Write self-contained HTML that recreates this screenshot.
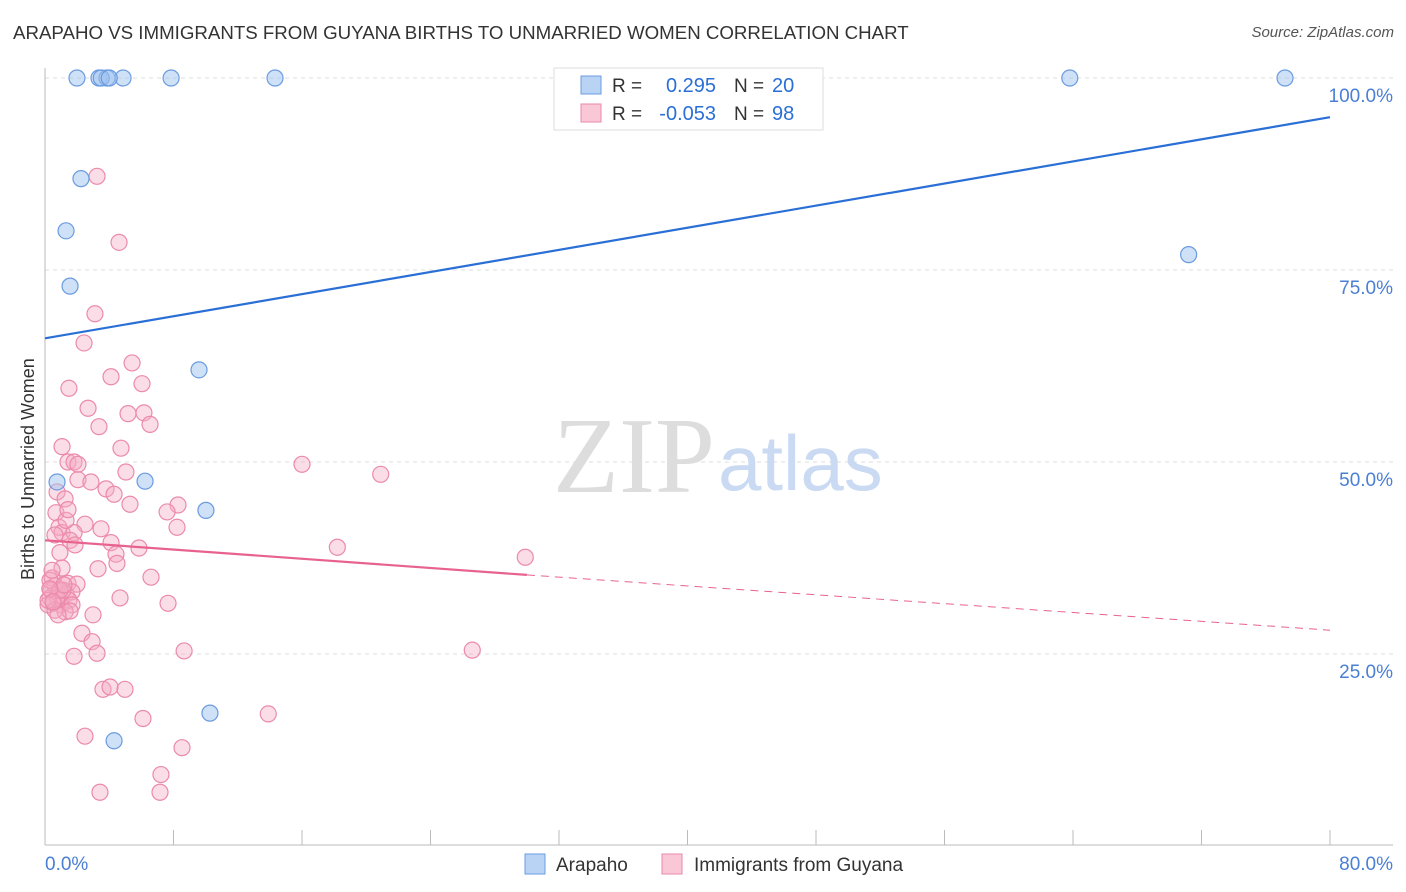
<!DOCTYPE html>
<html><head><meta charset="utf-8">
<style>
body{margin:0;background:#fff;font-family:"Liberation Sans",sans-serif;}
#wrap{position:relative;width:1406px;height:892px;overflow:hidden;}
.t{position:absolute;white-space:nowrap;}
</style></head>
<body>
<div id="wrap">
<div class="t" style="left:13px;top:22px;font-size:18.7px;color:#333;">ARAPAHO VS IMMIGRANTS FROM GUYANA BIRTHS TO UNMARRIED WOMEN CORRELATION CHART</div>
<div class="t" style="right:12px;top:24px;font-size:15px;font-style:italic;color:#555;">Source: ZipAtlas.com</div>
<div class="t" style="left:18px;top:580px;font-size:18px;color:#333;transform:rotate(-90deg);transform-origin:left top;">Births to Unmarried Women</div>
<svg id="svg" width="1406" height="892" style="position:absolute;left:0;top:0"></svg>
</div>
<script>
const blueX=[1.99,3.36,3.86,4.86,7.85,14.32,63.8,77.2,2.24,1.31,1.56,9.59,0.75,6.23,10.02,10.27,4.30,71.2,3.5,4.0];
const blueY=[100,100,100,100,100,100,100,100,86.9,80.1,72.9,62.0,47.4,47.5,43.7,17.3,13.7,77.0,100,100];
const pinkX=[3.24,4.61,3.11,2.43,5.42,4.11,6.04,1.49,2.68,5.17,6.16,6.54,3.36,1.06,4.73,1.43,1.81,2.05,5.04,16.0,20.9,2.05,2.86,3.80,4.30,0.75,1.25,5.29,8.28,7.60,0.68,8.22,0.87,2.49,3.49,1.06,1.81,0.62,1.56,4.11,5.85,4.42,0.93,18.2,29.9,4.48,1.06,3.30,0.44,6.60,1.43,0.62,1.99,0.37,1.31,1.68,0.31,0.81,1.49,4.67,7.66,1.00,1.68,1.25,2.99,1.56,2.30,2.93,3.24,1.81,8.66,26.6,3.61,4.05,4.98,6.10,13.9,2.49,8.53,7.22,3.42,7.16,0.5,0.75,0.19,0.62,1.12,0.31,0.93,0.44,1.18,0.19,0.81,1.87,1.31,1.43,0.3,0.5];
const pinkY=[87.2,78.6,69.3,65.5,62.9,61.1,60.2,59.6,57.0,56.3,56.4,54.9,54.6,52.0,51.8,50.0,50.0,49.7,48.7,49.7,48.4,47.7,47.4,46.5,45.8,46.1,45.2,44.5,44.4,43.5,43.4,41.5,41.5,41.9,41.3,40.8,40.8,40.5,39.8,39.5,38.8,38.0,38.2,38.9,37.6,36.8,36.2,36.1,34.9,35.0,34.2,33.9,34.1,33.3,32.8,33.1,32.3,32.0,32.0,32.3,31.6,31.4,31.4,30.5,30.1,30.6,27.7,26.6,25.1,24.7,25.4,25.5,20.4,20.7,20.4,16.6,17.2,14.3,12.8,9.3,7.0,7.0,31.6,32.4,31.4,30.7,33.3,34.6,33.3,35.9,34.0,32.0,30.1,39.2,42.4,43.8,33.5,31.8];
const blueLine=[66.1,94.9];
const pinkLine=[39.8,35.3,28.1];
const pinkSolidEnd=30;
const yTicks=[25,50,75,100];
const yTickLabels=["25.0%","50.0%","75.0%","100.0%"];
const xTicks=[0,8,16,24,32,40,48,56,64,72,80];

const NS="http://www.w3.org/2000/svg";
const svg=document.getElementById('svg');
const X=v=>45+v/80*1285;
const Y=v=>846-v*7.68;
function mk(tag,a,parent){const e=document.createElementNS(NS,tag);for(const k in a)e.setAttribute(k,a[k]);(parent||svg).appendChild(e);return e;}

yTicks.forEach((t,i)=>{
  const g=mk('line',{x1:45,x2:1393,y1:Y(t),y2:Y(t),stroke:'#ddd','stroke-dasharray':'4,4'});
  
  
  const tx=mk('text',{x:1393,y:Y(t)+24,'text-anchor':'end','font-size':19,fill:'#4a7fd4','font-family':'Liberation Sans, sans-serif'});
  tx.textContent=yTickLabels[i];
  
  
});
const ax=mk('line',{x1:45,x2:1393,y1:845,y2:845,stroke:'#bbb'});


const ay=mk('line',{x1:45,x2:45,y1:68,y2:845,stroke:'#bbb'});


xTicks.forEach(t=>{
  const l=mk('line',{x1:X(t),x2:X(t),y1:830,y2:845,stroke:'#bbb'});
  
  
});
[[0,'0.0%','start',45],[80,'80.0%','end',1393]].forEach(d=>{
  const tx=mk('text',{x:d[3],y:870,'text-anchor':d[2],'font-size':19,fill:'#4a7fd4','font-family':'Liberation Sans, sans-serif'});
  tx.textContent=d[1];
  
  
});
const w1=mk('text',{x:553,y:492,'font-size':108,fill:'#ddd','font-family':'Liberation Serif, serif'});
w1.textContent='ZIP';


const w2=mk('text',{x:718,y:490,'font-size':78,fill:'#c9daf2','font-family':'Liberation Sans, sans-serif'});
w2.textContent='atlas';



pinkX.forEach((x,i)=>{
  const c=mk('circle',{cx:X(x),cy:Y(pinkY[i]),r:8,fill:'rgba(245,170,195,0.4)',stroke:'#eb8aaa','stroke-width':1.2});
  
  
});
blueX.forEach((x,i)=>{
  const c=mk('circle',{cx:X(x),cy:Y(blueY[i]),r:8,fill:'rgba(160,196,240,0.5)',stroke:'#6a9be0','stroke-width':1.2});
  
  
});
const bl=mk('line',{x1:X(0),y1:Y(blueLine[0]),x2:X(80),y2:Y(blueLine[1]),stroke:'#2a6fd6','stroke-width':2.2});


const pl=mk('line',{x1:X(0),y1:Y(pinkLine[0]),x2:X(pinkSolidEnd),y2:Y(pinkLine[1]),stroke:'#e8628e','stroke-width':2.2});


const pd=mk('line',{x1:X(pinkSolidEnd),y1:Y(pinkLine[1]),x2:X(80),y2:Y(pinkLine[2]),stroke:'#e8628e','stroke-width':1,'stroke-dasharray':'8,6'});



const lg=mk('g',{});


mk('rect',{x:554,y:68,width:269,height:62,fill:'#fff',stroke:'#ddd'},lg);
mk('rect',{x:581,y:76,width:20,height:18,fill:'#b9d3f5',stroke:'#6a9be0'},lg);
mk('rect',{x:581,y:104,width:20,height:18,fill:'#f9c7d6',stroke:'#eb8aaa'},lg);
const rows=[[92,'0.295','20'],[120,'-0.053','98']];
rows.forEach(r=>{
  const a=mk('text',{x:612,y:r[0],'font-size':19,fill:'#333','font-family':'Liberation Sans, sans-serif'},lg);a.textContent='R =';
  const b=mk('text',{x:716,y:r[0],'text-anchor':'end','font-size':20,fill:'#2a6fd6','font-family':'Liberation Sans, sans-serif'},lg);b.textContent=r[1];
  const c=mk('text',{x:734,y:r[0],'font-size':19,fill:'#333','font-family':'Liberation Sans, sans-serif'},lg);c.textContent='N =';
  const d=mk('text',{x:772,y:r[0],'font-size':20,fill:'#2a6fd6','font-family':'Liberation Sans, sans-serif'},lg);d.textContent=r[2];
});
const bg=mk('g',{});


mk('rect',{x:525,y:854,width:20,height:20,fill:'#b9d3f5',stroke:'#6a9be0'},bg);
const t1=mk('text',{x:556,y:871,'font-size':19,fill:'#333','font-family':'Liberation Sans, sans-serif'},bg);t1.textContent='Arapaho';
mk('rect',{x:662,y:854,width:20,height:20,fill:'#f9c7d6',stroke:'#eb8aaa'},bg);
const t2=mk('text',{x:694,y:871,'font-size':19,fill:'#333','font-family':'Liberation Sans, sans-serif'},bg);t2.textContent='Immigrants from Guyana';
</script>
</body></html>
